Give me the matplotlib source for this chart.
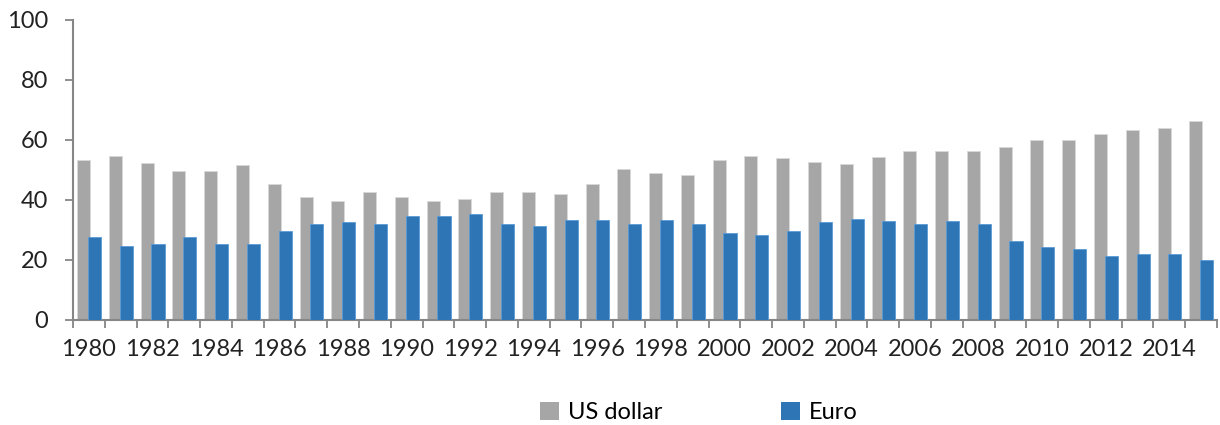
import matplotlib
matplotlib.use('Agg')
import numpy as np
import matplotlib.pyplot as plt
from matplotlib.ticker import FixedLocator
from matplotlib.patches import Patch

# data
years = list(range(1980, 2016))
usd = [53.3, 54.7, 52.5, 49.7, 49.7, 51.8, 45.5, 41.1, 39.7, 42.6,
       41.1, 39.7, 40.5, 42.6, 42.6, 41.9, 45.5, 50.4, 49.1, 48.4,
       53.3, 54.7, 54.0, 52.6, 52.0, 54.2, 56.3, 56.3, 56.3, 57.8,
       59.9, 59.9, 62.0, 63.4, 64.1, 66.2]
euro = [27.7, 24.7, 25.4, 27.7, 25.4, 25.4, 29.8, 31.9, 32.7, 31.9,
        34.8, 34.8, 35.5, 31.9, 31.2, 33.3, 33.3, 31.9, 33.3, 31.9,
        29.1, 28.3, 29.8, 32.7, 33.6, 32.9, 32.1, 32.9, 32.1, 26.4,
        24.3, 23.6, 21.4, 22.1, 22.1, 20.0]
year_labels = [str(y) if y % 2 == 0 else '' for y in years]

grey = '#A6A6A6'
blue = '#2E75B6'
axis_col = '#868686'

plt.rcParams['font.family'] = ['Lato', 'DejaVu Sans']
fs = 17

fig = plt.figure(figsize=(12.2, 4.25), dpi=100)
ax = fig.add_axes([73 / 1220, 105 / 425, 1144 / 1220, 300 / 425])

x = np.arange(len(years))
w = 0.41
ax.bar(x - 0.165, usd, width=w, color=grey, edgecolor='#D9D9D9', linewidth=0.6, zorder=2)
ax.bar(x + 0.175, euro, width=w, color=blue, edgecolor='#5B9BD5', linewidth=0.6, zorder=3)

ax.set_xlim(-0.5, len(years) - 0.5)
ax.set_ylim(0, 100)
ax.set_yticks([0, 20, 40, 60, 80, 100])

# boundary ticks (major) and centred labels (minor)
ax.xaxis.set_major_locator(FixedLocator(np.arange(len(years) + 1) - 0.5))
ax.set_xticklabels([])
ax.xaxis.set_minor_locator(FixedLocator(x))
ax.set_xticklabels(year_labels, minor=True)
ax.tick_params(axis='x', which='major', length=6, width=1.3, color=axis_col, direction='out')
ax.tick_params(axis='x', which='minor', length=0, pad=14, labelsize=fs, labelcolor='#222222')
ax.tick_params(axis='y', length=6, width=1.3, color=axis_col, labelsize=fs,
               labelcolor='#222222', pad=12)

for s in ['top', 'right']:
    ax.spines[s].set_visible(False)
for s in ['left', 'bottom']:
    ax.spines[s].set_color(axis_col)
    ax.spines[s].set_linewidth(1.5)

handles = [Patch(facecolor=grey, label='US dollar'), Patch(facecolor=blue, label='Euro')]
fig.legend(handles=handles, loc='center', bbox_to_anchor=(0.573, 0.03), ncol=2,
           frameon=False, fontsize=fs, handlelength=0.8, handleheight=0.8,
           handletextpad=0.4, columnspacing=5.0)

fig.savefig('out.png', dpi=100)
